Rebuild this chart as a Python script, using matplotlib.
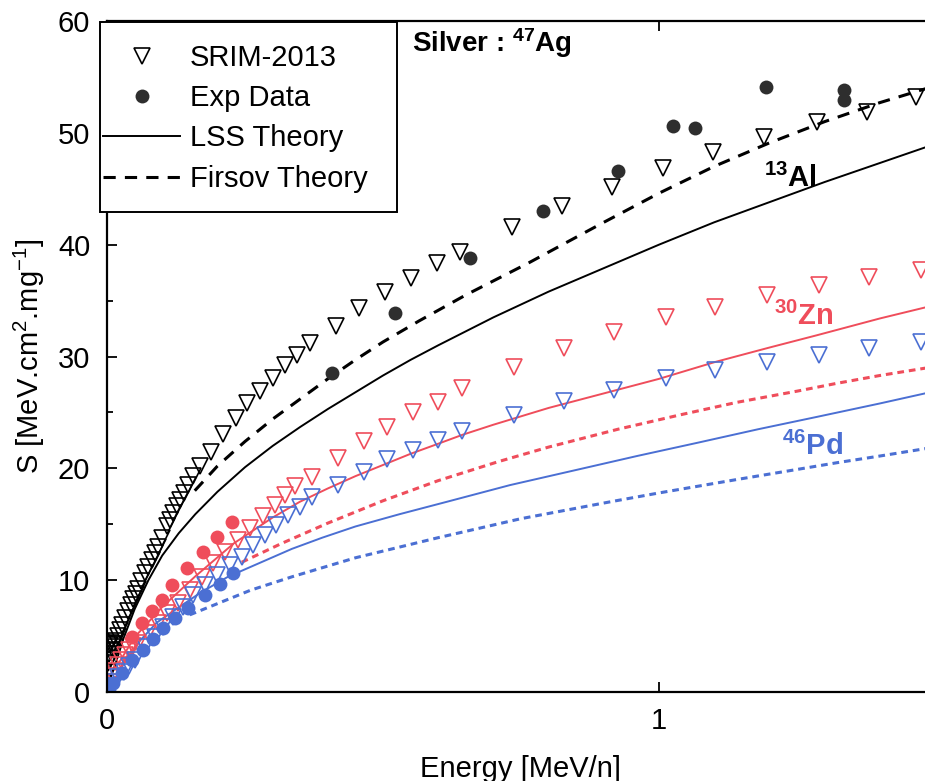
import numpy as np
import matplotlib.pyplot as plt
from matplotlib.patches import Rectangle
from matplotlib.ticker import MultipleLocator, FixedLocator

plt.rcParams['font.family'] = ['Liberation Sans', 'DejaVu Sans']
plt.rcParams['mathtext.default'] = 'regular'

RED = '#ef4d5b'
BLUE = '#4b6fd3'
DARK = '#2e2e2e'

# ---- Ag in Al (black) ----
al_srim_e = [0.001, 0.002, 0.003, 0.004, 0.005, 0.006, 0.008, 0.010, 0.012, 0.014,
             0.017, 0.020, 0.024, 0.028, 0.033, 0.038, 0.043, 0.047, 0.052, 0.056,
             0.062, 0.069, 0.075, 0.081, 0.087, 0.092, 0.100, 0.108, 0.114, 0.119,
             0.126, 0.132, 0.139, 0.146, 0.156, 0.168, 0.188, 0.210, 0.233, 0.253,
             0.278, 0.300, 0.322, 0.344, 0.367, 0.414, 0.457, 0.504, 0.551, 0.597,
             0.640, 0.734, 0.825, 0.915, 1.007, 1.098, 1.190, 1.286, 1.376, 1.465]
al_srim_s = [1.8, 2.6, 3.4, 4.2, 2.9, 3.7, 4.4, 3.8, 4.3, 4.0,
             4.6, 5.0, 5.5, 6.0, 6.6, 7.2, 7.8, 8.3, 8.8, 9.2,
             9.9, 10.6, 11.2, 11.8, 12.4, 13.0, 13.8, 14.8, 15.4, 16.0,
             16.6, 17.2, 17.8, 18.5, 19.3, 20.2, 21.5, 23.1, 24.5, 25.8,
             26.9, 28.1, 29.2, 30.1, 31.2, 32.7, 34.3, 35.8, 37.0, 38.4,
             39.3, 41.6, 43.5, 45.2, 46.9, 48.3, 49.6, 51.0, 51.9, 53.2]

al_exp_e = [0.407, 0.522, 0.658, 0.790, 0.926, 1.025, 1.065, 1.193, 1.335, 1.335]
al_exp_s = [28.5, 33.9, 38.8, 43.0, 46.6, 50.6, 50.4, 54.1, 53.8, 52.9]

al_lss_e = [0.003, 0.014, 0.03, 0.05, 0.075, 0.10, 0.13, 0.16, 0.20, 0.25,
            0.30, 0.35, 0.40, 0.45, 0.50, 0.55, 0.60, 0.70, 0.80, 0.90,
            1.00, 1.10, 1.20, 1.30, 1.40, 1.50]
al_lss_s = [0.8, 2.3, 4.8, 7.4, 10.0, 12.2, 14.2, 15.9, 17.9, 20.1,
            22.0, 23.7, 25.3, 26.8, 28.3, 29.7, 31.0, 33.5, 35.8, 37.9,
            40.0, 42.0, 43.8, 45.6, 47.3, 49.0]

al_fir_e = [0.159, 0.20, 0.25, 0.30, 0.35, 0.40, 0.45, 0.50, 0.566, 0.65,
            0.765, 0.90, 1.00, 1.10, 1.20, 1.30, 1.40, 1.50]
al_fir_s = [18.0, 20.2, 22.4, 24.4, 26.2, 28.0, 29.7, 31.3, 33.2, 35.5,
            38.4, 42.0, 44.6, 47.0, 49.1, 51.0, 52.7, 54.2]

# ---- Ag in Zn (red) ----
zn_srim_e = [0.005, 0.010, 0.015, 0.020, 0.026, 0.032, 0.040, 0.048, 0.056, 0.074,
             0.092, 0.108, 0.128, 0.150, 0.172, 0.192, 0.213, 0.237, 0.259, 0.282,
             0.304, 0.322, 0.340, 0.371, 0.418, 0.465, 0.508, 0.555, 0.599, 0.644,
             0.738, 0.828, 0.919, 1.013, 1.101, 1.195, 1.289, 1.380, 1.474]
zn_srim_s = [0.9, 1.4, 1.9, 2.4, 2.9, 3.3, 3.8, 4.1, 4.4, 5.3,
             6.2, 7.1, 8.0, 9.1, 10.3, 11.5, 12.5, 13.6, 14.7, 15.7,
             16.7, 17.6, 18.4, 19.2, 20.9, 22.4, 23.7, 25.0, 25.9, 27.2,
             29.1, 30.8, 32.2, 33.5, 34.4, 35.5, 36.4, 37.1, 37.7]

zn_exp_e = [0.045, 0.063, 0.081, 0.100, 0.118, 0.145, 0.174, 0.200, 0.226]
zn_exp_s = [4.9, 6.2, 7.2, 8.2, 9.6, 11.1, 12.5, 13.9, 15.2]

zn_lss_e = [0.014, 0.05, 0.10, 0.159, 0.23, 0.30, 0.349, 0.40, 0.45, 0.50,
            0.55, 0.60, 0.644, 0.70, 0.80, 0.90, 1.00, 1.101, 1.20, 1.286,
            1.40, 1.50]
zn_lss_s = [2.0, 4.9, 7.6, 10.3, 13.3, 15.6, 17.0, 18.2, 19.3, 20.3,
            21.3, 22.2, 23.0, 23.9, 25.4, 26.7, 28.0, 29.5, 30.8, 31.9,
            33.4, 34.6]

zn_fir_e = [0.244, 0.317, 0.40, 0.50, 0.60, 0.709, 0.80, 0.926, 1.04, 1.141,
            1.25, 1.322, 1.40, 1.50]
zn_fir_s = [11.6, 13.3, 15.1, 17.1, 18.9, 20.6, 21.9, 23.5, 24.8, 25.9,
            26.9, 27.6, 28.3, 29.1]

# ---- Ag in Pd (blue) ----
pd_srim_e = [0.005, 0.012, 0.020, 0.030, 0.040, 0.051, 0.069, 0.087, 0.101, 0.119,
             0.137, 0.156, 0.177, 0.199, 0.222, 0.244, 0.264, 0.286, 0.307, 0.327,
             0.350, 0.371, 0.418, 0.465, 0.508, 0.555, 0.599, 0.644, 0.738, 0.828,
             0.919, 1.013, 1.101, 1.195, 1.289, 1.380, 1.474]
pd_srim_s = [0.5, 0.9, 1.3, 1.8, 2.3, 2.9, 4.0, 4.9, 5.8, 6.7,
             7.6, 8.7, 9.6, 10.5, 11.4, 12.1, 13.1, 14.0, 14.9, 15.8,
             16.5, 17.4, 18.5, 19.7, 20.8, 21.6, 22.5, 23.3, 24.8, 26.0,
             27.0, 28.1, 28.8, 29.5, 30.1, 30.8, 31.3]

pd_exp_e = [0.003, 0.011, 0.027, 0.045, 0.065, 0.083, 0.101, 0.123, 0.146, 0.177,
            0.204, 0.228]
pd_exp_s = [0.3, 0.8, 1.7, 2.9, 3.8, 4.7, 5.7, 6.6, 7.5, 8.7,
            9.7, 10.6]

pd_lss_e = [0.01, 0.03, 0.06, 0.09, 0.128, 0.17, 0.219, 0.27, 0.335, 0.39,
            0.45, 0.53, 0.615, 0.73, 0.854, 0.96, 1.071, 1.18, 1.286, 1.40,
            1.50]
pd_lss_s = [0.8, 2.5, 4.6, 6.2, 7.5, 8.9, 10.3, 11.4, 12.8, 13.8,
            14.8, 15.9, 17.0, 18.5, 19.9, 21.1, 22.3, 23.5, 24.6, 25.8,
            26.9]

pd_fir_e = [0.15, 0.20, 0.26, 0.335, 0.45, 0.60, 0.75, 0.911, 1.00, 1.141,
            1.25, 1.322, 1.40, 1.50]
pd_fir_s = [6.9, 7.9, 9.1, 10.3, 12.0, 13.8, 15.5, 17.0, 17.8, 19.0,
            19.9, 20.5, 21.1, 21.9]

fig = plt.figure(figsize=(9.25, 7.81), dpi=100)
ax = fig.add_axes([107 / 925, 89 / 781, 828 / 925, 671 / 781])

tri = dict(marker='v', linestyle='none', markersize=12, fillstyle='none', markeredgewidth=1.2)
dot = dict(marker='o', linestyle='none', markersize=10, markeredgewidth=0)
dash_big = dict(linestyle=(0, (4, 3)), linewidth=2.2)
dash_small = dict(linestyle=(0, (2.2, 1.6)), linewidth=2.2)

# lines
ax.plot(al_lss_e, al_lss_s, color='black', linewidth=1.4)
ax.plot(al_fir_e, al_fir_s, color='black', **dash_big)
ax.plot(zn_lss_e, zn_lss_s, color=RED, linewidth=1.4)
ax.plot(zn_fir_e, zn_fir_s, color=RED, **dash_small)
ax.plot(pd_lss_e, pd_lss_s, color=BLUE, linewidth=1.4)
ax.plot(pd_fir_e, pd_fir_s, color=BLUE, **dash_small)

# markers
ax.plot(al_srim_e, al_srim_s, color='black', **tri)
ax.plot(zn_srim_e, zn_srim_s, color=RED, **tri)
ax.plot(pd_srim_e, pd_srim_s, color=BLUE, **tri)
ax.plot(al_exp_e, al_exp_s, color=DARK, **dot)
ax.plot(zn_exp_e, zn_exp_s, color=RED, **dot)
ax.plot(pd_exp_e, pd_exp_s, color=BLUE, **dot)

# legend: white box drawn on the figure, entries as a frameless figure legend on top
h1, = ax.plot([], [], color='black', **tri)
h2, = ax.plot([], [], color=DARK, **dot)
h3, = ax.plot([], [], color='black', linewidth=1.4)
h4, = ax.plot([], [], color='black', **dash_big)
fig.add_artist(Rectangle((100 / 925, 1 - 212 / 781), 297 / 925, 190 / 781,
                         transform=fig.transFigure, facecolor='white',
                         edgecolor='black', linewidth=1.4, zorder=2))
fig.legend([h1, h2, h3, h4], ['SRIM-2013', 'Exp Data', 'LSS Theory', 'Firsov Theory'],
           loc='upper left', bbox_to_anchor=(103 / 925, 1 - 44 / 781),
           bbox_transform=fig.transFigure, borderaxespad=0, borderpad=0,
           fontsize=21, frameon=False, handlelength=2.64, handletextpad=0.34,
           labelspacing=0.42).set_zorder(5)

# annotations
ax.text(0.553, 57.2, 'Silver : $^{47}$Ag', fontsize=20, fontweight='bold')
ax.text(1.19, 45.2, '$^{13}$Al', fontsize=21, fontweight='bold')
ax.text(1.208, 32.8, '$^{30}$Zn', fontsize=21, fontweight='bold', color=RED)
ax.text(1.222, 21.2, '$^{46}$Pd', fontsize=21, fontweight='bold', color=BLUE)

ax.set_xlim(0, 1.5)
ax.set_ylim(0, 60)
ax.xaxis.set_major_locator(FixedLocator([0, 1]))
ax.yaxis.set_major_locator(MultipleLocator(10))
ax.yaxis.set_minor_locator(MultipleLocator(5))
ax.tick_params(which='both', direction='in', top=True, right=True, labelsize=21, width=1.3)
ax.tick_params(which='major', length=7)
ax.tick_params(which='minor', length=4.5)
ax.tick_params(axis='y', pad=12)
ax.tick_params(axis='x', pad=11)
for sp in ax.spines.values():
    sp.set_linewidth(1.6)

ax.set_xlabel('Energy [MeV/n]', fontsize=21, labelpad=14)
ax.set_ylabel('S [MeV.cm$^2$.mg$^{-1}$]', fontsize=21, labelpad=8)

fig.savefig('out.png', dpi=100)
